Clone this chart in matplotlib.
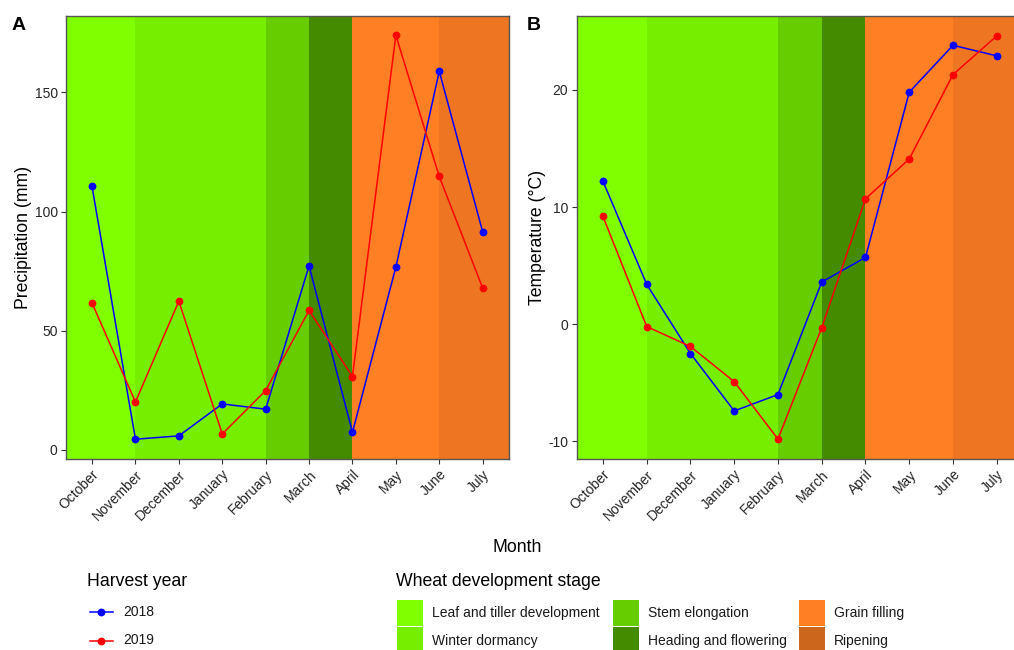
import matplotlib
matplotlib.use("Agg")
import matplotlib.pyplot as plt
from matplotlib.patches import Rectangle
from matplotlib.lines import Line2D
import numpy as np

plt.rcParams['font.family'] = ['Liberation Sans', 'DejaVu Sans']

months = ["October", "November", "December", "January", "February", "March",
          "April", "May", "June", "July"]
years = ["2018", "2019"]
year_colors = ["#0000FF", "#FF0000"]

precip_2018 = [110.5, 4.5, 5.9, 19.3, 17.1, 77.2, 7.4, 76.7, 158.8, 91.5]
precip_2019 = [61.6, 20.1, 62.4, 6.7, 24.9, 58.5, 30.8, 173.9, 114.7, 67.9]
temp_2018 = [12.2, 3.4, -2.5, -7.4, -6.0, 3.6, 5.7, 19.8, 23.8, 22.9]
temp_2019 = [9.2, -0.2, -1.9, -4.9, -9.8, -0.3, 10.7, 14.1, 21.3, 24.6]

stages = ["Leaf and tiller development", "Winter dormancy", "Stem elongation",
          "Heading and flowering", "Grain filling", "Ripening"]
# stage spans expressed in month positions (1 = October)
stage_start = [-np.inf, 2, 5, 6, 7, 9]
stage_end = [2, 5, 6, 7, 9, np.inf]
stage_fill = ["#7FFF00", "#76EE00", "#66CD00", "#458B00", "#FF7F24", "#EE7623"]
stage_key = ["#7FFF00", "#76EE00", "#66CD00", "#458B00", "#FF7F24", "#CD661D"]

W, H = 1014, 650
fig = plt.figure(figsize=(W / 100, H / 100), dpi=100)

TICK_FS = 10
TITLE_FS = 12.7
TICK_COL = "#262626"


def px_axes(left, right, top, bottom):
    return fig.add_axes([left / W, 1 - bottom / H, (right - left) / W, (bottom - top) / H])


def draw_panel(ax, s18, s19, ylabel, ylim, yticks, letter, letter_x):
    x = np.arange(1, len(months) + 1)
    for a, b, c in zip(stage_start, stage_end, stage_fill):
        ax.axvspan(max(a, 0), min(b, 11), color=c, lw=0, zorder=0)
    for s, c in zip([s18, s19], year_colors):
        ax.plot(x, s, color=c, lw=1.1, marker="o", ms=4.6, zorder=3)
    ax.set_xlim(0.4, len(months) + 0.6)
    ax.set_ylim(*ylim)
    ax.set_yticks(yticks)
    ax.set_yticklabels([str(t) for t in yticks], fontsize=TICK_FS, color=TICK_COL)
    ax.set_xticks(x)
    ax.set_xticklabels(months, rotation=45, ha="right", va="top",
                       rotation_mode="anchor", fontsize=TICK_FS, color=TICK_COL)
    ax.tick_params(axis="both", length=3.5, width=0.8, color="#333333", pad=2.5)
    for sp in ax.spines.values():
        sp.set_color("#555555")
        sp.set_linewidth(1.0)
    ax.set_ylabel(ylabel, fontsize=TITLE_FS, labelpad=1.5)
    fig.text(letter_x / W, 1 - 25 / H, letter, fontsize=14, fontweight="bold",
             ha="center", va="center")


axA = px_axes(66, 508.7, 16, 459)
draw_panel(axA, precip_2018, precip_2019, "Precipitation (mm)", (-3.8, 182),
           [0, 50, 100, 150], "A", 19)
axB = px_axes(576.7, 1023, 16, 459)
draw_panel(axB, temp_2018, temp_2019, "Temperature (°C)", (-11.5, 26.3),
           [-10, 0, 10, 20], "B", 534)

fig.text(517 / W, 1 - 548 / H, "Month", fontsize=TITLE_FS, ha="center", va="center")

# legends in pixel overlay
ov = fig.add_axes([0, 0, 1, 1])
ov.set_xlim(0, W)
ov.set_ylim(H, 0)
ov.axis("off")

ov.text(87, 582, "Harvest year", fontsize=TITLE_FS, va="center", ha="left")
for i, (yr, c) in enumerate(zip(years, year_colors)):
    yy = 612 + 28.5 * i
    ov.add_line(Line2D([90, 112.5], [yy, yy], color=c, lw=1.1))
    ov.plot([101], [yy], marker="o", ms=4.6, color=c)
    ov.text(123, yy, yr, fontsize=TICK_FS, va="center", ha="left", color="#1A1A1A")

ov.text(396, 582, "Wheat development stage", fontsize=TITLE_FS, va="center", ha="left")
col_x = [397, 613, 799]
for i, (name, c) in enumerate(zip(stages, stage_key)):
    col = i // 2
    row = i % 2
    bx = col_x[col]
    by = 599.5 + 27.5 * row
    ov.add_patch(Rectangle((bx, by), 25.5, 26, facecolor=c, edgecolor="none"))
    ov.text(bx + 35, by + 13.5, name, fontsize=TICK_FS, va="center", ha="left",
            color="#1A1A1A")

fig.savefig("out.png", dpi=100)
